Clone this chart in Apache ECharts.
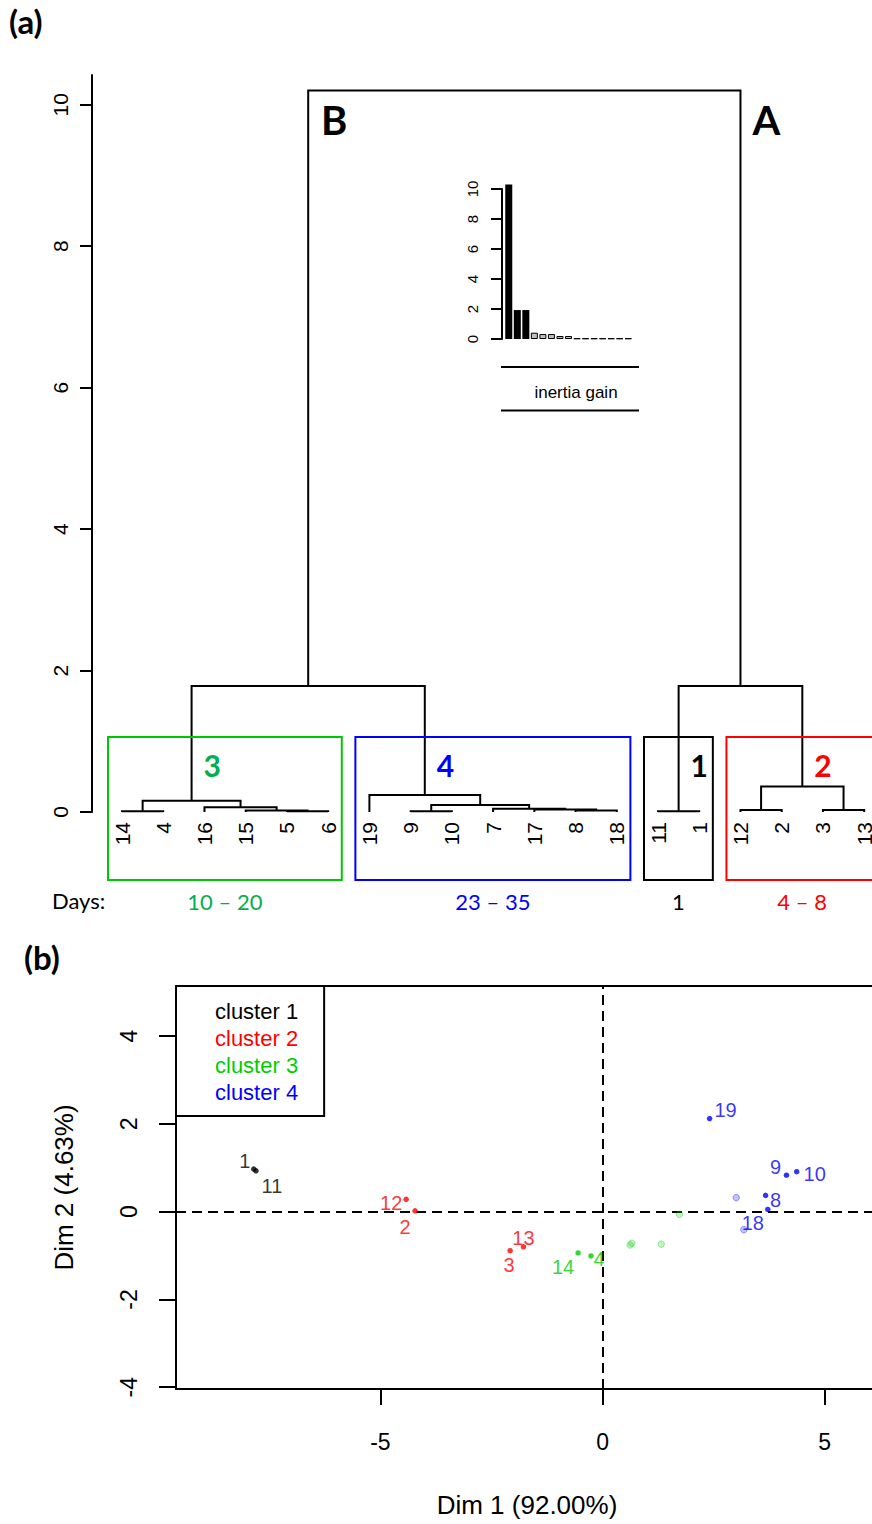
<!DOCTYPE html>
<html>
<head>
<meta charset="utf-8">
<script src="https://cdn.jsdelivr.net/npm/echarts@6/dist/echarts.min.js"></script>
<style>
  html, body { margin: 0; padding: 0; background: #fff; }
  #chart { width: 872px; height: 1524px; }
</style>
</head>
<body>
<div id="chart"></div>
<script>
// ---------- (a) hierarchical clustering ----------
// leaves in dendrogram order (observation ids)
const leafOrder = [14, 4, 16, 15, 5, 6, 19, 9, 10, 7, 17, 8, 18, 11, 1, 12, 2, 3, 13];
// merge table: [left, right, height]; negative = observation id, positive = earlier merge row (1-based)
const merges = [
  [-14, -4, 0.01],   // 1
  [-5, -6, 0.01],    // 2
  [-15, 2, 0.02],    // 3
  [-16, 3, 0.066],   // 4
  [1, 4, 0.16],      // 5  cluster 3
  [-9, -10, 0.01],   // 6
  [-8, -18, 0.02],   // 7
  [-17, 7, 0.035],   // 8
  [-7, 8, 0.045],    // 9
  [6, 9, 0.10],      // 10
  [-19, 10, 0.24],   // 11 cluster 4
  [-11, -1, 0.01],   // 12 cluster 1
  [-12, -2, 0.03],   // 13
  [-3, -13, 0.03],   // 14
  [13, 14, 0.36],    // 15 cluster 2
  [5, 11, 1.78],     // 16 branch B
  [12, 15, 1.78],    // 17 branch A
  [16, 17, 10.2]     // 18 root
];
const clusterMembers = [
  [11, 1],
  [12, 2, 3, 13],
  [14, 4, 16, 15, 5, 6],
  [19, 9, 10, 7, 17, 8, 18]
];
const clusterRootMerge = [12, 15, 5, 11];
const clusterDays = ['1', '4 \u2013 8', '10 \u2013 20', '23 \u2013 35'];
const branchNames = ['B', 'A'];
const branchMerge = [16, 17];
const heightTicks = [0, 2, 4, 6, 8, 10];

// inset: inertia gain of successive merges
const inertiaGain = [10.3, 1.93, 1.93, 0.42, 0.33, 0.33, 0.2, 0.2, 0.04, 0.04, 0.04, 0.04, 0.04, 0.04, 0.04];
const inertiaTicks = [0, 2, 4, 6, 8, 10];

// ---------- (b) factor map ----------
const obsId    = [1, 11, 12, 2, 3, 13, 14, 4, 16, 15, 5, 6, 19, 9, 10, 8, 18, 7, 17];
const dim1     = [-7.85, -7.80, -4.42, -4.22, -2.08, -1.78, -0.55, -0.26, 0.62, 0.66, 1.32, 1.73, 2.41, 4.14, 4.37, 3.67, 3.72, 3.01, 3.18];
const dim2     = [0.97, 0.93, 0.28, 0.02, -0.89, -0.80, -0.94, -1.01, -0.76, -0.72, -0.74, -0.06, 2.12, 0.83, 0.91, 0.37, 0.05, 0.32, -0.41];
const obsClust = [1, 1, 2, 2, 2, 2, 3, 3, 3, 3, 3, 3, 4, 4, 4, 4, 4, 4, 4];
const labelledObs = [1, 11, 12, 2, 3, 13, 14, 4, 19, 9, 10, 8, 18];
const clusterNames = ['cluster 1', 'cluster 2', 'cluster 3', 'cluster 4'];
const dim1Ticks = [-5, 0, 5];
const dim2Ticks = [-4, -2, 0, 2, 4];

// ---------- styling / layout ----------
const POINT_COLORS = ['#000000', '#ff0000', '#00cd00', '#0000ff'];
const FADED_FILL   = ['rgba(0,0,0,0.3)', 'rgba(255,0,0,0.3)', 'rgba(0,205,0,0.3)', 'rgba(0,0,255,0.3)'];
const FADED_EDGE   = ['rgba(0,0,0,0.45)', 'rgba(255,0,0,0.45)', 'rgba(0,205,0,0.45)', 'rgba(0,0,255,0.45)'];
const BOX_COLORS   = ['#000000', '#ff0000', '#00c800', '#0000ff'];
const TEXT_COLORS  = ['#000000', '#ff0000', '#00b050', '#0000ff'];
// where each point label sits relative to its dot (px)
const labelOffset = {
  1: [-9, -8], 11: [16, 15], 12: [-15, 4], 2: [-10, 16], 3: [-1, 14], 13: [0, -9],
  14: [-15, 14], 4: [8, 3], 19: [16, -9], 9: [-11, -8], 10: [18, 2], 8: [10, 5], 18: [-15, 14]
};
const ARIAL = 'Liberation Sans, Arial, sans-serif';
const CAL = 'Lato, Open Sans, sans-serif';
const BOX_TOP = 1.06, BOX_BOTTOM = -0.96, DAYS_Y = -1.27;

// ---------- dendrogram geometry from the merge table ----------
const leafPos = {};
leafOrder.forEach((id, i) => { leafPos[id] = i + 1; });
const nodeX = [], nodeH = [], branchData = [];
merges.forEach(([a, b, h]) => {
  const xa = a < 0 ? leafPos[-a] : nodeX[a - 1];
  const ha = a < 0 ? 0 : nodeH[a - 1];
  const xb = b < 0 ? leafPos[-b] : nodeX[b - 1];
  const hb = b < 0 ? 0 : nodeH[b - 1];
  nodeX.push((xa + xb) / 2);
  nodeH.push(h);
  branchData.push([xa, ha, xb, hb, h]);
});
const boxData = clusterMembers.map((m, k) => {
  const pos = m.map(id => leafPos[id]);
  return [Math.min(...pos) - 0.34, Math.max(...pos) + 0.33, k, nodeX[clusterRootMerge[k] - 1]];
});
const leafData = leafOrder.map(id => [leafPos[id], 0, id]);
const branchLabelData = branchMerge.map(r => [nodeX[r - 1] + 0.63, nodeH[merges.length - 1] - 0.41]);

// ---------- factor map series ----------
const pcaSeries = clusterNames.map((name, k) => ({
  name,
  type: 'scatter',
  xAxisIndex: 2, yAxisIndex: 2,
  silent: true,
  z: 5,
  label: { position: 'inside', formatter: '{b}', color: POINT_COLORS[k], fontSize: 20, fontFamily: ARIAL },
  data: obsId.map((id, i) => ({ id, i })).filter(o => obsClust[o.i] === k + 1).map(({ id, i }) => {
    const shown = labelledObs.includes(id);
    return {
      name: String(id),
      value: [dim1[i], dim2[i]],
      symbolSize: shown ? 5.5 : 6.5,
      itemStyle: shown ? { color: POINT_COLORS[k] }
                       : { color: FADED_FILL[k], borderColor: FADED_EDGE[k], borderWidth: 1 },
      label: { show: shown, offset: labelOffset[id] || [0, 0] }
    };
  })
}));
pcaSeries[0].markLine = {
  silent: true, symbol: 'none', animation: false,
  label: { show: false },
  lineStyle: { color: '#000', width: 2, type: [10, 6] },
  data: [{ xAxis: 0 }, { yAxis: 0 }]
};

const chart = echarts.init(document.getElementById('chart'), null, { renderer: 'svg', width: 872, height: 1524 });

const blackLine = { color: '#000', width: 2 };

const option = {
  animation: false,
  backgroundColor: '#fff',
  textStyle: { fontFamily: ARIAL },
  grid: [
    { left: 92, top: 75, width: 780, height: 737, show: false },
    { left: 504.5, top: 189, width: 128, height: 150, show: false },
    { left: 176, top: 986, width: 696, height: 403, show: false }
  ],
  xAxis: [
    { gridIndex: 0, type: 'value', min: 0.272, max: 19.19, show: false },
    { gridIndex: 1, type: 'category', data: inertiaGain.map((v, i) => String(i + 1)), show: false },
    {
      gridIndex: 2, type: 'value', min: -9.6, max: 6.065, position: 'bottom',
      axisLine: { show: true, onZero: false, lineStyle: blackLine },
      axisTick: { show: true, length: 16, lineStyle: blackLine, customValues: dim1Ticks },
      axisLabel: { customValues: dim1Ticks, margin: 41, fontSize: 23, color: '#000', fontFamily: ARIAL },
      splitLine: { show: false },
      name: 'Dim 1 (92.00%)', nameLocation: 'middle', nameGap: 103,
      nameTextStyle: { fontSize: 26, color: '#000', fontFamily: ARIAL, padding: [0, 0, 0, 6] }
    },
    {
      // top edge of the factor-map frame
      gridIndex: 2, type: 'value', min: -9.6, max: 6.065, position: 'top',
      axisLine: { show: true, onZero: false, lineStyle: blackLine },
      axisTick: { show: false }, axisLabel: { show: false }, splitLine: { show: false }
    }
  ],
  yAxis: [
    {
      gridIndex: 0, type: 'value', min: 0, max: 10.42,
      axisLine: { show: true, lineStyle: blackLine },
      axisTick: { show: true, length: 12, lineStyle: blackLine, customValues: heightTicks },
      axisLabel: { customValues: heightTicks, rotate: 90, margin: 21, fontSize: 21, color: '#000', fontFamily: ARIAL },
      splitLine: { show: false }
    },
    {
      gridIndex: 1, type: 'value', min: 0, max: 10, offset: 2.5,
      axisLine: { show: true, lineStyle: blackLine },
      axisTick: { show: true, length: 11, lineStyle: blackLine, customValues: inertiaTicks },
      axisLabel: { customValues: inertiaTicks, rotate: 90, margin: 22, fontSize: 15, color: '#000', fontFamily: ARIAL },
      splitLine: { show: false }
    },
    {
      gridIndex: 2, type: 'value', min: -4.04, max: 5.14,
      axisLine: { show: true, onZero: false, lineStyle: blackLine },
      axisTick: { show: true, length: 17, lineStyle: blackLine, customValues: dim2Ticks },
      axisLabel: { customValues: dim2Ticks, rotate: 90, margin: 36, fontSize: 23, color: '#000', fontFamily: ARIAL },
      splitLine: { show: false },
      name: 'Dim 2 (4.63%)', nameLocation: 'middle', nameGap: 99,
      nameTextStyle: { fontSize: 26, color: '#000', fontFamily: ARIAL }
    }
  ],
  legend: {
    show: true,
    left: 176, top: 986,
    orient: 'vertical',
    icon: 'none',
    itemWidth: 0, itemHeight: 22, itemGap: 5,
    selectedMode: false,
    padding: [14, 26, 13, 34],
    borderColor: '#000', borderWidth: 2,
    backgroundColor: '#fff',
    textStyle: { fontSize: 22, fontFamily: ARIAL },
    data: clusterNames.map((n, k) => ({ name: n, textStyle: { color: POINT_COLORS[k] } }))
  },
  graphic: [
    { type: 'text', left: 9, top: 4, style: { text: '(a)', font: 'bold 33px ' + CAL, fill: '#000' } },
    { type: 'text', left: 24, top: 940, style: { text: '(b)', font: 'bold 33px ' + CAL, fill: '#000' } },
    { type: 'text', left: 52, top: 889, style: { text: 'Days:', font: '22px ' + CAL, fill: '#000' } },
    { type: 'line', shape: { x1: 501, y1: 367, x2: 639, y2: 367 }, style: { stroke: '#000', lineWidth: 2 } },
    { type: 'line', shape: { x1: 501, y1: 410.5, x2: 639, y2: 410.5 }, style: { stroke: '#000', lineWidth: 2 } },
    { type: 'text', x: 576, y: 392, style: { text: 'inertia gain', font: '17px ' + ARIAL, fill: '#000', align: 'center', verticalAlign: 'middle' } }
  ],
  series: [
    // dendrogram branches
    {
      type: 'custom', xAxisIndex: 0, yAxisIndex: 0, clip: false, silent: true,
      data: branchData,
      renderItem: (params, api) => {
        const p1 = api.coord([api.value(0), api.value(1)]);
        const p2 = api.coord([api.value(0), api.value(4)]);
        const p3 = api.coord([api.value(2), api.value(4)]);
        const p4 = api.coord([api.value(2), api.value(3)]);
        return { type: 'polyline', shape: { points: [p1, p2, p3, p4] }, style: { stroke: '#000', lineWidth: 2, fill: null } };
      }
    },
    // leaf labels
    {
      type: 'custom', xAxisIndex: 0, yAxisIndex: 0, clip: false, silent: true,
      data: leafData,
      renderItem: (params, api) => {
        const p = api.coord([api.value(0), 0]);
        return {
          type: 'text', x: p[0], y: p[1] + 10, rotation: Math.PI / 2,
          style: { text: String(api.value(2)), fontSize: 21, lineHeight: 21, fontFamily: ARIAL, fill: '#000', align: 'right', verticalAlign: 'middle' }
        };
      }
    },
    // cluster boxes, numbers and day ranges
    {
      type: 'custom', xAxisIndex: 0, yAxisIndex: 0, clip: false, silent: true,
      data: boxData,
      renderItem: (params, api) => {
        const x0 = api.value(0), x1 = api.value(1), k = api.value(2), nx = api.value(3);
        const a = api.coord([x0, BOX_TOP]);
        const b = api.coord([x1, BOX_BOTTOM]);
        const num = api.coord([nx + 0.5, 0.66]);
        const day = api.coord([(x0 + x1) / 2, DAYS_Y]);
        return {
          type: 'group',
          children: [
            { type: 'rect', shape: { x: a[0], y: a[1], width: b[0] - a[0], height: b[1] - a[1] },
              style: { stroke: BOX_COLORS[k], lineWidth: 2, fill: null } },
            { type: 'text', x: num[0], y: num[1],
              style: { text: String(k + 1), font: 'bold 30px ' + CAL, fill: TEXT_COLORS[k], align: 'center', verticalAlign: 'middle' } },
            { type: 'text', x: day[0], y: day[1],
              style: { text: clusterDays[k], font: '22px ' + CAL, fill: TEXT_COLORS[k], align: 'center', verticalAlign: 'middle' } }
          ]
        };
      }
    },
    // branch names
    {
      type: 'custom', xAxisIndex: 0, yAxisIndex: 0, clip: false, silent: true,
      data: branchLabelData,
      renderItem: (params, api) => {
        const p = api.coord([api.value(0), api.value(1)]);
        return { type: 'text', x: p[0], y: p[1],
          style: { text: branchNames[params.dataIndex], font: 'bold 40px ' + CAL, fill: '#000', align: 'center', verticalAlign: 'middle' } };
      }
    },
    // inertia gain bars
    {
      type: 'bar', xAxisIndex: 1, yAxisIndex: 1, barWidth: 7, clip: false, silent: true,
      data: inertiaGain.map((v, i) => ({
        value: v,
        itemStyle: i < clusterMembers.length - 1 ? { color: '#000' } : { color: '#bebebe', borderColor: '#000', borderWidth: 1 }
      }))
    },
    ...pcaSeries
  ]
};
chart.setOption(option);
</script>
</body>
</html>
